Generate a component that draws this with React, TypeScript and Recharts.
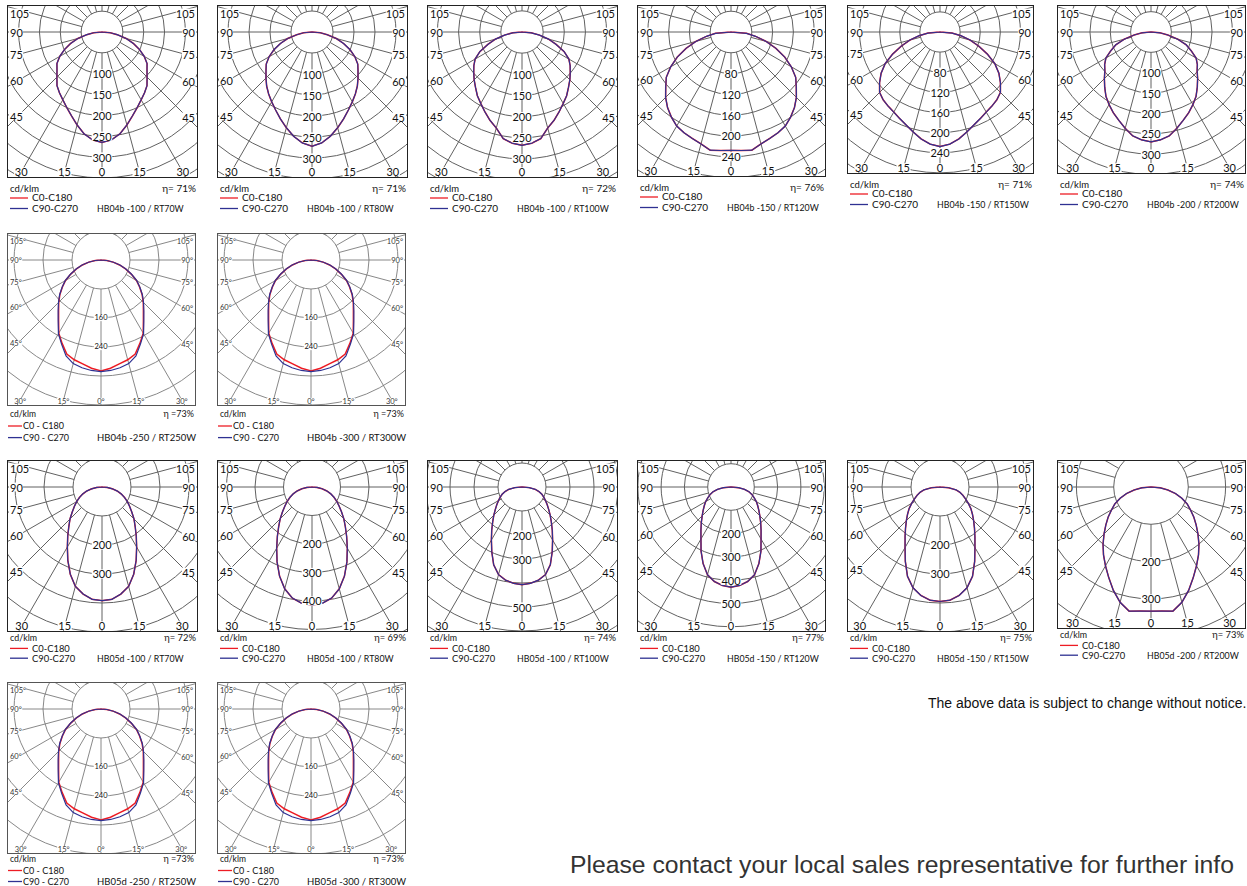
import React from 'react';
import { RadarChart, Radar, PolarGrid, PolarAngleAxis, PolarRadiusAxis } from 'recharts';

// angle from nadir (deg), one half of the curve; the other half mirrors it
const GAMMA = [0, 5, 10, 15, 20, 25, 30, 35, 40, 45, 50, 55, 60, 65, 70, 75, 80, 85, 90];

// intensities in cd/klm
const hb04b100rt70 = [265, 260, 248, 231, 214, 200, 188, 178, 168, 153, 141, 132, 117, 99, 80, 60, 37, 20, 0];
const hb04b100rt80 = [272, 265, 252, 236, 220, 205, 192, 180, 168, 155, 143, 133, 118, 100, 80, 60, 37, 20, 0];
const hb04b100rt100 = [268, 264, 256, 235, 222, 208, 195, 184, 171, 160, 149, 139, 128, 110, 86, 65, 42, 22, 0];
const hb04b150rt120 = [228, 229, 231, 223, 218, 214, 209, 200, 190, 178, 164, 152, 134, 114, 92, 70, 48, 30, 0];
const hb04b150rt150 = [228, 224, 216, 206, 197, 190, 184, 180, 176, 170, 157, 143, 126, 104, 82, 62, 42, 24, 0];
const hb04b200rt200 = [270, 266, 259, 245, 231, 219, 206, 193, 177, 162, 148, 139, 128, 109, 92, 68, 42, 22, 0];
const hb04b250c0 = [306, 300, 291, 285, 276, 254, 233, 204, 182, 165, 148, 130, 113, 92, 72, 53, 34, 16, 0];
const hb04b250c90 = [308, 306, 302, 296, 282, 257, 235, 206, 184, 166, 149, 131, 114, 93, 73, 54, 35, 16, 0];
const hb04b300c0 = [306, 300, 291, 285, 276, 254, 233, 204, 182, 165, 148, 130, 113, 92, 72, 53, 34, 16, 0];
const hb04b300c90 = [308, 306, 302, 296, 282, 257, 235, 206, 184, 166, 149, 131, 114, 93, 73, 54, 35, 16, 0];
const hb05d100rt70 = [392, 389, 375, 355, 320, 279, 239, 206, 178, 156, 134, 116, 101, 86, 71, 55, 36, 18, 0];
const hb05d100rt80 = [415, 410, 396, 370, 333, 290, 248, 212, 182, 158, 135, 116, 100, 85, 70, 54, 36, 18, 0];
const hb05d100rt100 = [407, 403, 394, 378, 345, 298, 255, 220, 190, 166, 145, 128, 113, 100, 88, 73, 56, 30, 0];
const hb05d150rt120 = [430, 424, 412, 390, 350, 304, 258, 225, 198, 175, 156, 140, 126, 110, 96, 80, 59, 32, 0];
const hb05d150rt150 = [395, 392, 380, 360, 328, 283, 241, 210, 185, 164, 146, 130, 113, 97, 84, 71, 56, 30, 0];
const hb05d200rt200 = [333, 334, 338, 320, 295, 268, 244, 222, 200, 178, 158, 140, 122, 107, 88, 68, 46, 25, 0];
const hb05d250c0 = [306, 300, 291, 285, 276, 254, 233, 204, 182, 165, 148, 130, 113, 92, 72, 53, 34, 16, 0];
const hb05d250c90 = [308, 306, 302, 296, 282, 257, 235, 206, 184, 166, 149, 131, 114, 93, 73, 54, 35, 16, 0];
const hb05d300c0 = [306, 300, 291, 285, 276, 254, 233, 204, 182, 165, 148, 130, 113, 92, 72, 53, 34, 16, 0];
const hb05d300c90 = [308, 306, 302, 296, 282, 257, 235, 206, 184, 166, 149, 131, 114, 93, 73, 54, 35, 16, 0];

const RED = '#ed1c24';
const BLUE = '#2e3192';

type Panel = {
  x: number;
  y: number;
  w: number;
  h: number;
  k: number; // px per cd/klm
  step: number;
  labels: number[];
  c0: number[];
  c90: number[];
  eta: string;
  model: string;
  small: boolean;
  rows: number[]; // text offsets below the box
  fs: number; // legend font size
};

const ROW1 = [11.5, 21, 31.5];
const ROW2 = [8.3, 21, 32.6];
const ROW3 = [6.6, 17.4, 27.2];
const ROW4 = [5.5, 17.5, 28.5];
const L50 = [100, 150, 200, 250, 300];
const L40 = [80, 120, 160, 200, 240];

const PANELS: Panel[] = [
  { x: 8, y: 6, w: 189, h: 171, k: 0.417, step: 50, labels: L50, c0: hb04b100rt70, c90: hb04b100rt70, eta: 'η= 71%', model: 'HB04b -100 / RT70W', small: false, rows: ROW1, fs: 10 },
  { x: 218, y: 6, w: 189, h: 171, k: 0.42, step: 50, labels: L50, c0: hb04b100rt80, c90: hb04b100rt80, eta: 'η= 71%', model: 'HB04b -100 / RT80W', small: false, rows: ROW1, fs: 10 },
  { x: 428, y: 6, w: 189, h: 171, k: 0.423, step: 50, labels: L50, c0: hb04b100rt100, c90: hb04b100rt100, eta: 'η= 72%', model: 'HB04b -100 / RT100W', small: false, rows: ROW1, fs: 10 },
  { x: 638, y: 6, w: 187, h: 170, k: 0.52, step: 40, labels: L40, c0: hb04b150rt120, c90: hb04b150rt120, eta: 'η= 76%', model: 'HB04b -150 / RT120W', small: false, rows: ROW1, fs: 10 },
  { x: 848, y: 6, w: 185, h: 167, k: 0.503, step: 40, labels: L40, c0: hb04b150rt150, c90: hb04b150rt150, eta: 'η= 71%', model: 'HB04b -150 / RT150W', small: false, rows: ROW1, fs: 10 },
  { x: 1058, y: 6, w: 187, h: 167, k: 0.407, step: 50, labels: L50, c0: hb04b200rt200, c90: hb04b200rt200, eta: 'η= 74%', model: 'HB04b -200 / RT200W', small: false, rows: ROW1, fs: 10 },
  { x: 8, y: 234, w: 187, h: 171, k: 0.3625, step: 80, labels: [160, 240], c0: hb04b250c0, c90: hb04b250c90, eta: 'η =73%', model: 'HB04b -250 / RT250W', small: true, rows: ROW2, fs: 9 },
  { x: 218, y: 234, w: 187, h: 171, k: 0.3625, step: 80, labels: [160, 240], c0: hb04b300c0, c90: hb04b300c90, eta: 'η =73%', model: 'HB04b -300 / RT300W', small: true, rows: ROW2, fs: 9 },
  { x: 8, y: 461, w: 189, h: 170, k: 0.29, step: 100, labels: [200, 300], c0: hb05d100rt70, c90: hb05d100rt70, eta: 'η= 72%', model: 'HB05d -100 / RT70W', small: false, rows: ROW3, fs: 9.4 },
  { x: 218, y: 461, w: 189, h: 170, k: 0.285, step: 100, labels: [200, 300, 400], c0: hb05d100rt80, c90: hb05d100rt80, eta: 'η= 69%', model: 'HB05d -100 / RT80W', small: false, rows: ROW3, fs: 9.4 },
  { x: 428, y: 461, w: 189, h: 170, k: 0.24, step: 100, labels: [200, 300, 500], c0: hb05d100rt100, c90: hb05d100rt100, eta: 'η= 74%', model: 'HB05d -100 / RT100W', small: false, rows: ROW3, fs: 9.4 },
  { x: 638, y: 461, w: 187, h: 170, k: 0.233, step: 100, labels: [200, 300, 400, 500], c0: hb05d150rt120, c90: hb05d150rt120, eta: 'η= 77%', model: 'HB05d -150 / RT120W', small: false, rows: ROW3, fs: 9.4 },
  { x: 848, y: 461, w: 185, h: 170, k: 0.29, step: 100, labels: [200, 300], c0: hb05d150rt150, c90: hb05d150rt150, eta: 'η= 75%', model: 'HB05d -150 / RT150W', small: false, rows: ROW3, fs: 9.4 },
  { x: 1058, y: 461, w: 187, h: 167, k: 0.373, step: 100, labels: [200, 300], c0: hb05d200rt200, c90: hb05d200rt200, eta: 'η= 73%', model: 'HB05d -200 / RT200W', small: false, rows: ROW3, fs: 9.4 },
  { x: 8, y: 683, w: 187, h: 170, k: 0.3625, step: 80, labels: [160, 240], c0: hb05d250c0, c90: hb05d250c90, eta: 'η =73%', model: 'HB05d -250 / RT250W', small: true, rows: ROW4, fs: 9 },
  { x: 218, y: 683, w: 187, h: 170, k: 0.3625, step: 80, labels: [160, 240], c0: hb05d300c0, c90: hb05d300c90, eta: 'η =73%', model: 'HB05d -300 / RT300W', small: true, rows: ROW4, fs: 9 },
];

const OUTER = 200;

function buildTable(c0: number[], c90: number[]) {
  const rows: { g: number; c0: number; c90: number }[] = [];
  for (let g = 0; g < 360; g += 5) {
    const side = g <= 180 ? g : 360 - g;
    const i = GAMMA.indexOf(side);
    rows.push({ g, c0: i >= 0 ? c0[i] : 0, c90: i >= 0 ? c90[i] : 0 });
  }
  return rows;
}

function makeAngleTick(p: Panel, cx: number, cy: number) {
  const fs = p.small ? 7.5 : 11;
  return (props: any) => {
    const g = Number(props.payload?.value);
    const side = g <= 180 ? g : 360 - g;
    if (side % 15 !== 0 || side > 105) return <g />;
    const a = (Number(props.payload.coordinate) * Math.PI) / 180;
    const dx = Math.cos(a);
    const dy = -Math.sin(a);
    const tx = dx < -1e-6 ? -cx / dx : dx > 1e-6 ? (p.w - cx) / dx : Infinity;
    const ty = dy > 1e-6 ? (p.h - cy) / dy : dy < -1e-6 ? -cy / dy : Infinity;
    const txt = p.small ? `${side}°` : `${side}`;
    const tw = txt.length * fs * (p.small ? 0.5 : 0.55);
    const common = { fontSize: fs, fill: p.small ? '#333' : '#111', fontFamily: 'Lato, sans-serif' };
    if (ty < tx && dy > 0) {
      const t = (p.h - 5 - cy) / dy;
      const x = Math.min(Math.max(cx + dx * t, 8), p.w - 8);
      return (
        <g>
          <rect x={x - tw / 2 - 1} y={p.h - 1.5 - fs * 0.75} width={tw + 2} height={fs * 0.8} fill="#fff" />
          <text x={x} y={p.h - 1.5} textAnchor="middle" {...common}>
            {txt}
          </text>
        </g>
      );
    }
    const left = dx < 0;
    const xe = left ? 10 : p.w - 10;
    const y = Math.max(cy + dy * ((xe - cx) / dx), 7);
    const tx0 = left ? 2 : p.w - 2;
    return (
      <g>
        <rect x={left ? tx0 - 1 : tx0 - tw - 1} y={y - fs * 0.4} width={tw + 2} height={fs * 0.8} fill="#fff" />
        <text x={tx0} y={y} textAnchor={left ? 'start' : 'end'} dominantBaseline="central" {...common}>
          {txt}
        </text>
      </g>
    );
  };
}

function makeRadiusTick(p: Panel) {
  const fs = p.small ? 7.5 : 11;
  return (props: any) => {
    const v = props.payload?.value;
    if (!p.labels.includes(v)) return <g />;
    const txt = String(v);
    const tw = txt.length * fs * 0.56;
    return (
      <g>
        <rect x={props.x - tw / 2 - 1} y={props.y - fs * 0.42} width={tw + 2} height={fs * 0.84} fill="#fff" />
        <text x={props.x} y={props.y} textAnchor="middle" dominantBaseline="central" fontSize={fs} fill="#111" fontFamily="Lato, sans-serif">
          {txt}
        </text>
      </g>
    );
  };
}

function Diagram({ p }: { p: Panel }) {
  const cx = p.w / 2 - 0.5;
  const cy = 26;
  const r0 = p.k * p.step;
  const data = buildTable(p.c0, p.c90);
  const circles: number[] = [];
  for (let v = p.step; v * p.k <= OUTER; v += p.step) circles.push(v * p.k);
  const spokes: number[] = [];
  for (let a = -90; a < 270; a += 15) spokes.push(a);
  const o = p.rows;
  const legendX = p.small ? 15 : 24;
  const lineX2 = p.small ? 14 : 20;
  const lineX1 = p.small ? 0 : 2;

  return (
    <>
      <div
        style={{
          position: 'absolute',
          left: p.x - 1,
          top: p.y - 1,
          width: p.w,
          height: p.h,
          border: p.small ? '1px solid #555' : '1.3px solid #222',
          background: '#fff',
        }}
      >
        <RadarChart
          width={p.w}
          height={p.h}
          data={data}
          cx={cx}
          cy={cy}
          innerRadius={r0}
          outerRadius={OUTER}
          startAngle={-90}
          endAngle={-450}
          margin={{ top: 0, right: 0, bottom: 0, left: 0 }}
        >
          <PolarGrid
            gridType="circle"
            polarRadius={circles}
            polarAngles={spokes}
            stroke={p.small ? '#7a7a7a' : '#616161'}
            strokeWidth={p.small ? 0.9 : 1}
          />
          <PolarAngleAxis dataKey="g" tickLine={false} axisLine={false} tick={makeAngleTick(p, cx, cy)} />
          <PolarRadiusAxis
            angle={-90}
            type="number"
            domain={[p.step, OUTER / p.k]}
            allowDataOverflow
            ticks={p.labels}
            tick={makeRadiusTick(p)}
            axisLine={false}
            tickLine={false}
          />
          <Radar dataKey="c0" stroke={RED} strokeWidth={1.5} fill="none" fillOpacity={0} dot={false} isAnimationActive={false} />
          <Radar dataKey="c90" stroke={BLUE} strokeWidth={1.2} fill="none" fillOpacity={0} dot={false} isAnimationActive={false} />
        </RadarChart>
      </div>
      <svg
        style={{ position: 'absolute', left: p.x, top: p.y + p.h, overflow: 'visible' }}
        width={200}
        height={40}
        fontFamily="Lato, sans-serif"
      >
        <text x={2} y={o[0] + 3.3} fontSize={p.fs - 0.5} fill="#111">
          cd/klm
        </text>
        <text x={p.w - 1} y={o[0] + 3.3} fontSize={p.fs} textAnchor="end" fill="#111">
          {p.eta}
        </text>
        <line x1={lineX1} x2={lineX2} y1={o[1]} y2={o[1]} stroke={RED} strokeWidth={1.3} />
        <text x={legendX} y={o[1] + 3.4} fontSize={p.fs} fill="#111">
          {p.small ? 'C0 - C180' : 'C0-C180'}
        </text>
        <line x1={lineX1} x2={lineX2} y1={o[2]} y2={o[2]} stroke={BLUE} strokeWidth={1.3} />
        <text x={legendX} y={o[2] + 3.4} fontSize={p.fs} fill="#111">
          {p.small ? 'C90 - C270' : 'C90-C270'}
        </text>
        <text x={89} y={o[2] + 3.4} fontSize={p.small ? 9.5 : 8.8} fill="#111">
          {p.model}
        </text>
      </svg>
    </>
  );
}

export default function App() {
  return (
    <div
      style={{
        position: 'absolute',
        left: 0,
        top: 0,
        width: 1247,
        height: 886,
        overflow: 'hidden',
        background: '#fff',
      }}
    >
      {PANELS.map(p => (
        <Diagram key={p.model} p={p} />
      ))}
      <div
        style={{
          position: 'absolute',
          left: 928,
          top: 695,
          fontFamily: '"Liberation Sans", Arial, sans-serif',
          fontSize: 14,
          whiteSpace: 'nowrap',
          color: '#111',
        }}
      >
        The above data is subject to change without notice.
      </div>
      <svg style={{ position: 'absolute', left: 0, top: 840 }} width={1247} height={46}>
        <text
          x={570}
          y={33}
          fontFamily='"Liberation Sans Narrow", "Liberation Sans", sans-serif'
          fontSize={24.8}
          textLength={664}
          lengthAdjust="spacingAndGlyphs"
          fill="#333"
        >
          Please contact your local sales representative for further info
        </text>
      </svg>
    </div>
  );
}
